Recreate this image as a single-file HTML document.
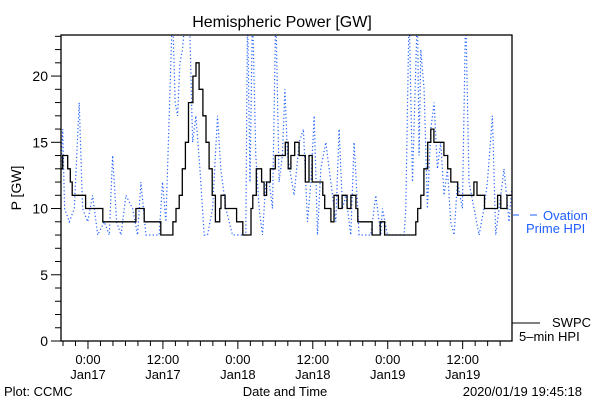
<!DOCTYPE html>
<html><head><meta charset="utf-8"><style>
body{margin:0;background:#fff;}
svg{display:block;font-family:"Liberation Sans",sans-serif;}
</style></head><body>
<svg id="c" width="600" height="400" viewBox="0 0 600 400">
<text x="282" y="27" font-size="16" text-anchor="middle">Hemispheric Power [GW]</text>
<text transform="translate(21,188) rotate(-90)" font-size="14" text-anchor="middle">P [GW]</text>
<text x="285" y="396" font-size="13" text-anchor="middle">Date and Time</text>
<text x="4" y="396" font-size="13">Plot: CCMC</text>
<text x="582" y="396" font-size="13" text-anchor="end">2020/01/19 19:45:18</text>
<line x1="513" y1="215" x2="519" y2="215" stroke="#1f5fff"/>
<line x1="530" y1="215" x2="537" y2="215" stroke="#1f5fff"/>
<text x="543" y="220" font-size="13" fill="#1f5fff">Ovation</text>
<text x="526" y="233" font-size="13" fill="#1f5fff">Prime HPI</text>
<line x1="512" y1="323" x2="540" y2="323" stroke="#000"/>
<text x="552" y="327" font-size="13">SWPC</text>
<text x="519" y="341" font-size="13">5–min HPI</text>
<g id="plot"></g>
</svg>
<script>
const swpcTimes=[-4.32,-4.05,-3.24,-2.83,-2.52,-0.38,2.37,7.68,9.0,11.66,13.6,14.1,14.6,15.1,15.6,16.1,16.8,17.3,17.8,18.4,18.9,19.4,19.9,20.4,21.1,21.3,21.96,23.8,24.8,26.1,26.4,26.96,27.8,28.2,28.6,29.2,30.0,31.6,32.06,32.5,33.1,33.8,34.8,35.4,35.9,37.6,37.9,38.9,39.4,40.1,40.7,41.5,42.1,42.9,43.2,45.5,46.8,47.5,52.5,52.8,53.3,53.8,54.4,54.9,55.4,57.0,57.6,58.1,59.2,61.8,62.3,63.5,65.6,66.1,67.1];
const swpcValues=[13,14,13,12,11,10,9,10,9,8,9,10,11,13,15,18,20,21,19,17,15,13,11,9,10,11,10,9,8,10,11,13,12,11,12,13,14,15,13,14,15,14,12,14,12,11,10,9,11,10,11,10,11,10,9,8,9,8,9,10,11,13,15,16,15,14,13,12,11,12,11,10,11,10,11];
const ovTimes=[-4.32,-4.05,-3.75,-2.99,-2.19,-1.4,-0.86,-0.05,0.74,1.56,2.61,3.41,3.94,4.59,5.28,6.08,7.15,7.94,8.47,9.28,11.41,11.94,12.47,13.01,13.54,13.97,14.35,14.72,15.14,15.67,16.22,16.75,17.28,17.92,18.61,19.14,19.95,20.74,21.27,22.08,22.61,23.14,25.27,25.55,25.94,26.34,26.87,27.4,27.95,28.48,29.01,29.55,30.08,30.61,31.14,31.53,31.95,33.01,33.82,34.5,35.15,35.69,36.22,36.75,37.29,38.08,38.89,39.69,40.22,40.76,41.29,42.08,42.62,43.42,45.29,46.09,46.89,47.15,47.96,50.62,50.89,51.43,51.96,52.75,53.02,53.29,53.82,54.35,54.89,55.42,55.95,56.49,57.03,57.56,58.09,58.63,59.16,59.95,60.49,61.02,61.82,62.63,63.42,63.96,64.76,65.29,65.83,66.62,67.42,67.96];
const ovValues=[13,16,10,9,10,18,10,9,11,8,9,8,14,9,8,11,10,8,12,8,8,12,9,17,25,18,17,21,22,25,25,15,17,13,8,8,10,17,13,10,9,8,8,25,12,25,14,10,8,12,12,10,25,12,14,19,14,11,15,16,9,12,17,8,13,15,12,9,16,10,11,8,15,8,8,11,8,10,8,8,10,25,12,25,14,22,19,10,16,18,13,15,11,13,9,8,12,10,25,12,10,8,10,12,17,8,10,13,9,12];
const yTickLabels=[0,5,10,15,20];
const xTickHours=[0,12,24,36,48,60];
const xTickLabels=[["0:00","Jan17"],["12:00","Jan17"],["0:00","Jan18"],["12:00","Jan18"],["0:00","Jan19"],["12:00","Jan19"]];

const L=61,R=512,T=35,B=341,xMin=-4.32,xMax=67.9,yMin=0,yMax=23.1;
const xs=h=>L+(h-xMin)/(xMax-xMin)*(R-L);
const ys=v=>B-(v-yMin)/(yMax-yMin)*(B-T);
const NS="http://www.w3.org/2000/svg";
const g=document.getElementById('plot');
function mk(t,a){const e=document.createElementNS(NS,t);for(const k in a)e.setAttribute(k,a[k]);g.appendChild(e);return e;}
const defs=mk('defs',{});
const cp=document.createElementNS(NS,'clipPath');cp.setAttribute('id','clip');
const cr=document.createElementNS(NS,'rect');cr.setAttribute('x',L);cr.setAttribute('y',T);cr.setAttribute('width',R-L);cr.setAttribute('height',B-T);
cp.appendChild(cr);defs.appendChild(cp);

// ovation dotted
let d='';
ovTimes.forEach((t,i)=>{d+=(i?'L':'M')+xs(t).toFixed(1)+','+ys(ovValues[i]).toFixed(1);});
const ov=mk('path',{d:d,fill:'none',stroke:'#1f5fff','stroke-width':1.2,'stroke-dasharray':'1.2,2.4','clip-path':'url(#clip)'});



// swpc step
d='';
swpcTimes.forEach((t,i)=>{const x=xs(t),y=ys(swpcValues[i]);
 if(i===0)d+='M'+x.toFixed(1)+','+y.toFixed(1);else d+='V'+y.toFixed(1);
 const nx=i<swpcTimes.length-1?xs(swpcTimes[i+1]):R;d+='H'+nx.toFixed(1);});
const sw=mk('path',{d:d,fill:'none',stroke:'#000','stroke-width':1.3,'clip-path':'url(#clip)'});



const fr=mk('rect',{x:L,y:T,width:R-L,height:B-T,fill:'none',stroke:'#000','stroke-width':1.3});



for(let v=0;v<=23;v++){const y=ys(v),maj=v%5===0;
 const tk=mk('line',{x1:L-(maj?10:6),x2:L,y1:y,y2:y,stroke:'#000'});
 
 }
yTickLabels.forEach(v=>{const t=mk('text',{x:L-13,y:ys(v)+5,'font-size':14,'text-anchor':'end'});t.textContent=v;
 
 });
for(let h=-4;h<=xMax;h+=2){const x=xs(h),maj=h%12===0;
 const tk=mk('line',{x1:x,x2:x,y1:B,y2:B+(maj?8:5),stroke:'#000'});
 
 }
xTickHours.forEach((h,i)=>{const x=xs(h);
 const t1=mk('text',{x:x,y:364,'font-size':13,'text-anchor':'middle'});t1.textContent=xTickLabels[i][0];
 
 
 const t2=mk('text',{x:x,y:379,'font-size':13,'text-anchor':'middle'});t2.textContent=xTickLabels[i][1];
 
 });
</script>
</body></html>
